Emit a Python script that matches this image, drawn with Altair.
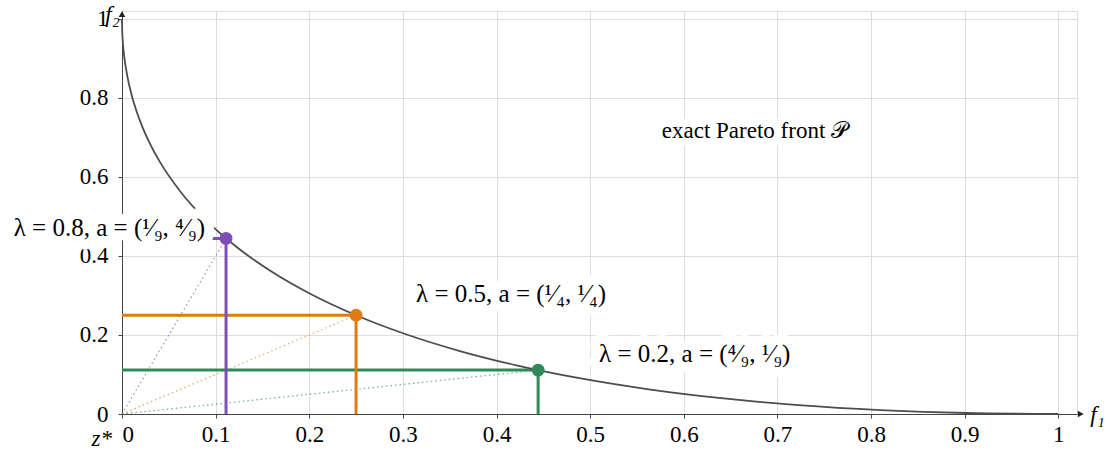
import altair as alt
import pandas as pd

# Pareto front samples
f1_curve = [0, 0.00016, 0.00063, 0.00141, 0.0025, 0.00563, 0.01, 0.01563, 0.0225, 0.03063,
            0.04, 0.0625, 0.09, 0.1225, 0.16, 0.2025, 0.25, 0.3025, 0.36, 0.4225, 0.49,
            0.5625, 0.64, 0.7225, 0.81, 0.9025, 1.0]
f2_curve = [1.0, 0.97516, 0.95063, 0.92641, 0.9025, 0.85563, 0.81, 0.76563, 0.7225, 0.68063,
            0.64, 0.5625, 0.49, 0.4225, 0.36, 0.3025, 0.25, 0.2025, 0.16, 0.1225, 0.09,
            0.0625, 0.04, 0.0225, 0.01, 0.0025, 0.0]

# Scalarization solutions
lambdas = [0.8, 0.5, 0.2]
a1 = [1 / 9, 1 / 4, 4 / 9]
a2 = [4 / 9, 1 / 4, 1 / 9]
labels = ["λ = 0.8, a = (¹⁄₉, ⁴⁄₉)", "λ = 0.5, a = (¹⁄₄, ¹⁄₄)", "λ = 0.2, a = (⁴⁄₉, ¹⁄₉)"]

x_ticks = [0, 0.1, 0.2, 0.3, 0.4, 0.5, 0.6, 0.7, 0.8, 0.9, 1]
y_ticks = [0, 0.2, 0.4, 0.6, 0.8, 1]

front_label = "exact Pareto front 𝒫"
front_label_pos = [0.676, 0.716]

line_colors = ["#7f4fb8", "#e07b14", "#2e8b57"]
dot_colors = ["#7f4fb8", "#e07b14", "#1d6e3f"]

FONT = "Liberation Serif"
TICK_FS = 23
LABEL_FS = 25

curve_df = pd.DataFrame({"f1": f1_curve, "f2": f2_curve})
pts = pd.DataFrame({"lam": lambdas, "a1": a1, "a2": a2, "label": labels,
                    "zero": [0.0] * 3})

xs = alt.Scale(domain=[0, 1.02], nice=False, zero=False)
ys = alt.Scale(domain=[0, 1.02], nice=False, zero=False)

xaxis = alt.Axis(values=x_ticks, format="~g", grid=True, gridColor="#dddddd",
                 domainColor="#444444", tickColor="#444444", tickSize=4,
                 labelFont=FONT, labelFontSize=TICK_FS, labelColor="black", labelPadding=5,
                 title="f₁", titleFont=FONT, titleFontSize=23, titleFontStyle="italic",
                 titleFontWeight="normal", titleAngle=0, titleX=975, titleY=0,
                 titleBaseline="middle", titleAlign="center", titleColor="black")
yaxis = alt.Axis(values=y_ticks, format="~g", grid=True, gridColor="#dddddd",
                 domainColor="#444444", tickColor="#444444", tickSize=4,
                 labelFont=FONT, labelFontSize=TICK_FS, labelColor="black", labelPadding=10,
                 title="f₂", titleFont=FONT, titleFontSize=23, titleFontStyle="italic",
                 titleFontWeight="normal", titleAngle=0, titleX=-10, titleY=3,
                 titleBaseline="middle", titleAlign="center", titleColor="black")

color_line = alt.Color("label:N", scale=alt.Scale(domain=labels, range=line_colors), legend=None)
color_dot = alt.Color("label:N", scale=alt.Scale(domain=labels, range=dot_colors), legend=None)

base = alt.Chart(pts)

frame = alt.Chart(curve_df).mark_point(opacity=0).encode(
    x=alt.X("f1:Q", scale=xs, axis=xaxis),
    y=alt.Y("f2:Q", scale=ys, axis=yaxis),
)

dotted = base.mark_rule(strokeDash=[1.5, 3], strokeWidth=1.2, opacity=0.7).encode(
    x=alt.X("zero:Q", scale=xs), y=alt.Y("zero:Q", scale=ys),
    x2="a1:Q", y2="a2:Q", color=color_line)

hlines = base.mark_rule(strokeWidth=3).encode(
    x=alt.X("zero:Q", scale=xs), x2="a1:Q", y=alt.Y("a2:Q", scale=ys), color=color_line)

vlines = base.mark_rule(strokeWidth=3).encode(
    x=alt.X("a1:Q", scale=xs), y=alt.Y("zero:Q", scale=ys), y2="a2:Q", color=color_line)

curve = alt.Chart(curve_df).mark_line(color="#4d4d4d", strokeWidth=1.8,
                                      interpolate="monotone").encode(
    x=alt.X("f1:Q", scale=xs), y=alt.Y("f2:Q", scale=ys))

offsets = {0.8: ("right", -21, -10), 0.5: ("left", 60, -21), 0.2: ("left", 61, -16)}
label_layers = []
for lam, (al, dx, dy) in offsets.items():
    sub = base.transform_filter(alt.datum.lam == lam)
    for halo in (True, False):
        kw = dict(align=al, dx=dx, dy=dy, baseline="middle", font=FONT, fontSize=LABEL_FS)
        if halo:
            m = sub.mark_text(fill="white", stroke="white", strokeWidth=20,
                              strokeJoin="round", **kw)
        else:
            m = sub.mark_text(color="black", **kw)
        label_layers.append(m.encode(x=alt.X("a1:Q", scale=xs),
                                     y=alt.Y("a2:Q", scale=ys), text="label:N"))

front_halo = alt.Chart().mark_text(font=FONT, fontSize=23, fill="white", stroke="white",
                                   strokeWidth=16, strokeJoin="round").encode(
    x=alt.datum(front_label_pos[0]), y=alt.datum(front_label_pos[1]),
    text=alt.value(front_label))
front_text = alt.Chart().mark_text(font=FONT, fontSize=23, color="black").encode(
    x=alt.datum(front_label_pos[0]), y=alt.datum(front_label_pos[1]),
    text=alt.value(front_label))

dots = base.mark_circle(size=165, opacity=1).encode(
    x=alt.X("a1:Q", scale=xs), y=alt.Y("a2:Q", scale=ys), color=color_dot)

zstar = alt.Chart().mark_text(font=FONT, fontSize=23, fontStyle="italic", color="black",
                              align="right", dx=-10, dy=25).encode(
    x=alt.datum(0), y=alt.datum(0), text=alt.value("z*"))

arrow_x = alt.Chart().mark_point(shape="triangle-right", filled=True, size=45,
                                 color="#222222", opacity=1).encode(
    x=alt.datum(1.024), y=alt.datum(0))
arrow_y = alt.Chart().mark_point(shape="triangle-up", filled=True, size=45,
                                 color="#222222", opacity=1).encode(
    x=alt.datum(0), y=alt.datum(1.012))

chart = alt.layer(
    frame, dotted, hlines, vlines, curve, *label_layers, front_halo, front_text,
    dots, zstar, arrow_x, arrow_y
).properties(
    width=955, height=403,
    autosize=alt.AutoSizeParams(type="none"),
    padding={"left": 122, "top": 11, "right": 35, "bottom": 39},
).configure_view(stroke=None).configure(background="white")

chart.save("out.html", embed_options={"renderer": "svg", "actions": False})
